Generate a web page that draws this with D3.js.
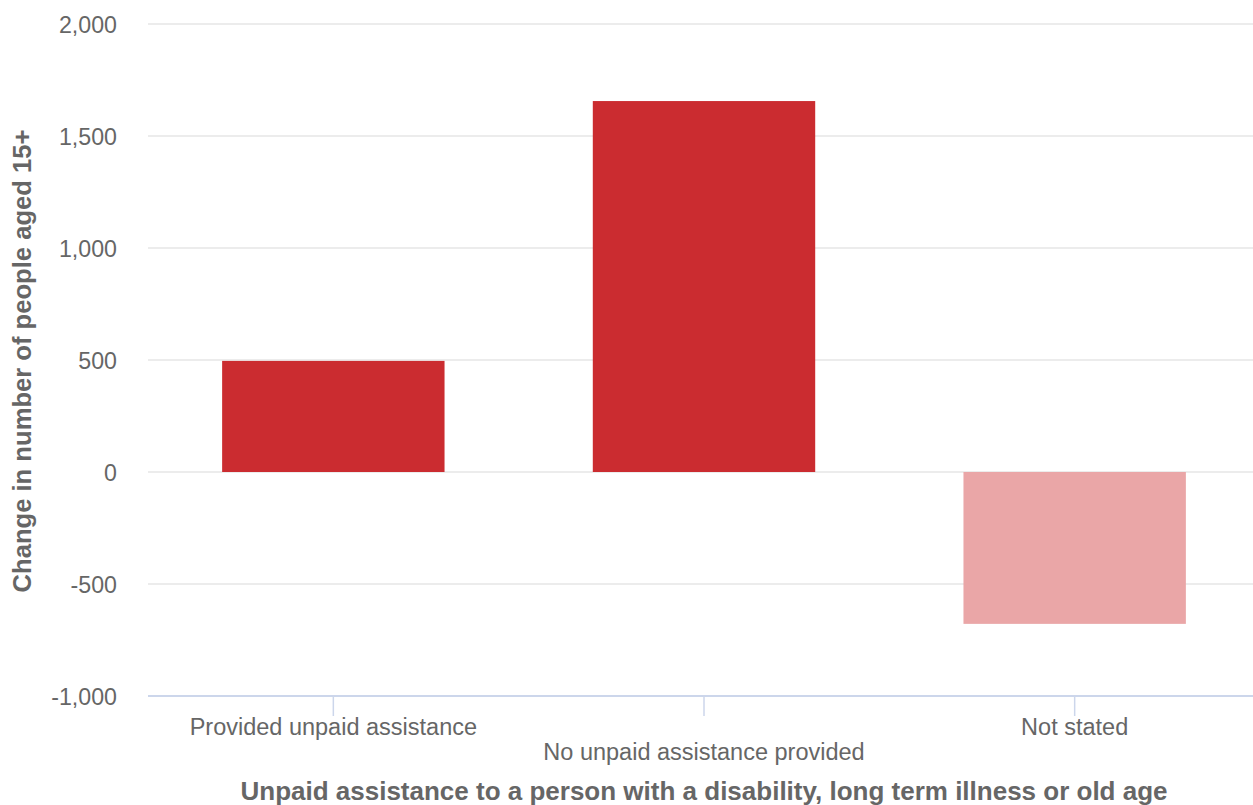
<!DOCTYPE html>
<html>
<head>
<meta charset="utf-8">
<script src="https://cdn.jsdelivr.net/npm/d3@7"></script>
<style>
  html, body { margin: 0; padding: 0; background: #fff; }
  svg { display: block; font-family: "Liberation Sans", Arial, sans-serif; }
</style>
</head>
<body>
<svg id="chart" width="1253" height="805"></svg>
<script>
const categories = ["Provided unpaid assistance", "No unpaid assistance provided", "Not stated"];
const values = [496, 1656, -678];
const barColors = ["#cb2c30", "#cb2c30", "#eaa6a7"];
const yTicks = [-1000, -500, 0, 500, 1000, 1500, 2000];
const yTitle = "Change in number of people aged 15+";
const xTitle = "Unpaid assistance to a person with a disability, long term illness or old age";

(function () {
const svg = d3.select("#chart");
const W = 1253, H = 805;
const pLeft = 148, pRight = 1260, pTop = 24, pBottom = 696;

const x = d3.scaleBand().domain(categories).range([pLeft, pRight]).paddingInner(0.4).paddingOuter(0.2);
const y = d3.scaleLinear().domain([-1000, 2000]).range([pBottom, pTop]);

// gridlines
svg.append("g").selectAll("line").data(yTicks.filter(t => t !== -1000)).join("line")
  .attr("x1", pLeft).attr("x2", W)
  .attr("y1", d => y(d)).attr("y2", d => y(d))
  .attr("stroke", "#e6e6e6").attr("stroke-width", 1.5);

// y axis labels
const yAxis = d3.axisLeft(y).tickValues(yTicks).tickSize(0).tickPadding(0)
  .tickFormat(d => d3.format(",")(d).replace("\u2212", "-"));
const gy = svg.append("g").attr("transform", "translate(117,0)").call(yAxis);
gy.select(".domain").remove();
gy.selectAll("text").attr("font-size", 23.2).attr("fill", "#666").attr("dy", "0.35em")
  .attr("font-family", "Liberation Sans, Arial, sans-serif");

// bars
svg.append("g").selectAll("rect").data(values).join("rect")
  .attr("x", (d, i) => x(categories[i]))
  .attr("width", x.bandwidth())
  .attr("y", d => y(Math.max(0, d)))
  .attr("height", d => Math.abs(y(d) - y(0)))
  .attr("fill", (d, i) => barColors[i]);

// x axis
const cx = d => x(d) + x.bandwidth() / 2;
svg.append("line").attr("x1", pLeft).attr("x2", W).attr("y1", pBottom).attr("y2", pBottom)
  .attr("stroke", "#ccd6eb").attr("stroke-width", 2);
svg.append("g").selectAll("line").data(categories).join("line")
  .attr("x1", cx).attr("x2", cx).attr("y1", pBottom).attr("y2", pBottom + 20)
  .attr("stroke", "#ccd6eb").attr("stroke-width", 1.5);
svg.append("g").selectAll("text").data(categories).join("text")
  .attr("x", cx).attr("y", (d, i) => i % 2 === 0 ? 735 : 760)
  .attr("text-anchor", "middle").attr("font-size", 23.5).attr("fill", "#666")
  .text(d => d);

// titles
svg.append("text").attr("x", 704).attr("y", 800).attr("text-anchor", "middle")
  .attr("font-size", 26).attr("font-weight", "bold").attr("fill", "#666").text(xTitle);
svg.append("text").attr("transform", "translate(31,361) rotate(-90)").attr("text-anchor", "middle")
  .attr("font-size", 25.6).attr("font-weight", "bold").attr("fill", "#666").text(yTitle);
})();
</script>
</body>
</html>
